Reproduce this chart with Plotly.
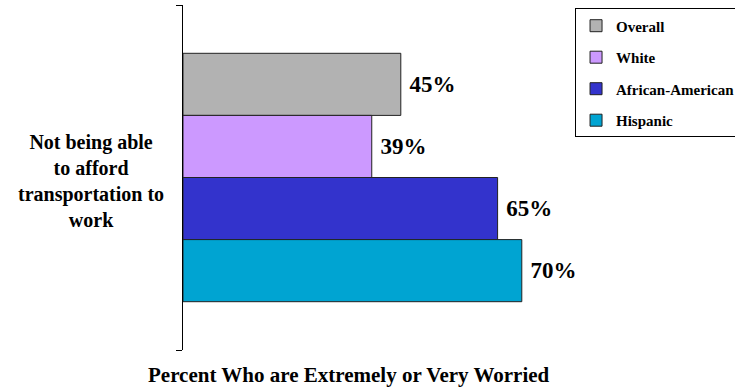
import plotly.graph_objects as go

category = ["Not being able<br>to afford<br>transportation to<br>work"]
series_names = ["Overall", "White", "African-American", "Hispanic"]
series_values = [45, 39, 65, 70]
series_colors = ["#b2b2b2", "#cc99ff", "#3333cc", "#00a4d2"]
x_title = "Percent Who are Extremely or Very Worried"

FONT = "Liberation Serif, serif"

fig = go.Figure()
for i, (name, val, col) in enumerate(zip(series_names, series_values, series_colors)):
    fig.add_trace(go.Bar(
        name="<b>" + name + "</b>",
        y=["cat"],
        x=[val],
        orientation="h",
        marker=dict(color=col, line=dict(color="#222222", width=1)),
        texttemplate="\u00a0<b>%{x}%</b>",
        textposition="outside",
        textfont=dict(family=FONT, size=23, color="black"),
        cliponaxis=False,
        legendgroup=name,
    ))

fig.update_layout(
    width=735, height=389,
    margin=dict(l=183, r=68, t=5, b=39, autoexpand=False),
    plot_bgcolor="white", paper_bgcolor="white",
    barmode="group", bargap=0.28, bargroupgap=0,
    font=dict(family=FONT, color="black"),
    showlegend=True,
    legend=dict(
        x=0.81, y=0.99, xanchor="left", yanchor="top",
        bordercolor="black", borderwidth=1, bgcolor="white",
        font=dict(family=FONT, size=15, color="black"),
        tracegroupgap=9, traceorder="grouped",
        itemwidth=30,
    ),
    xaxis=dict(range=[0, 100], visible=False, showgrid=False, zeroline=False),
    yaxis=dict(
        range=[0.5, -0.5], showline=True, linecolor="black", linewidth=1,
        ticks="outside", tickson="boundaries", ticklen=6, tickcolor="black",
        showticklabels=False, showgrid=False, zeroline=False,
    ),
    annotations=[
        dict(text="<b>" + category[0] + "</b>", xref="paper", yref="paper",
             x=-0.19, y=0.49, xanchor="center", yanchor="middle",
             showarrow=False, align="center",
             font=dict(family=FONT, size=20, color="black")),
        dict(text="<b>" + x_title + "</b>", xref="paper", yref="paper",
             x=0.343, y=-0.072, xanchor="center", yanchor="middle",
             showarrow=False, font=dict(family=FONT, size=21, color="black")),
    ],
)

fig.write_html("out.html")
